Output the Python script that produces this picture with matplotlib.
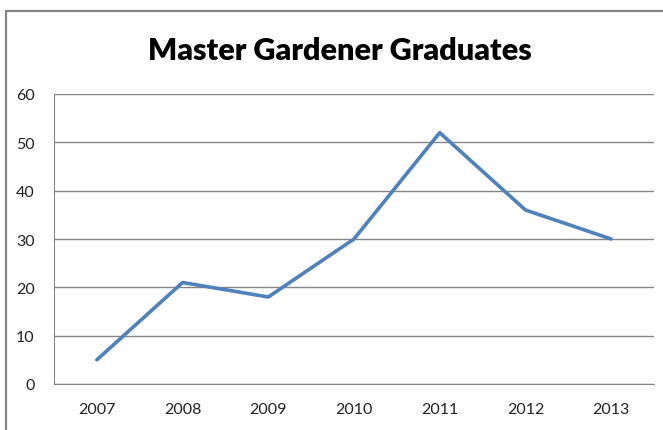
import matplotlib.pyplot as plt
from matplotlib.patches import Rectangle

years = ["2007", "2008", "2009", "2010", "2011", "2012", "2013"]
graduates = [5, 21, 18, 30, 52, 36, 30]

W, H = 663, 431
fig = plt.figure(figsize=(W / 100, H / 100), dpi=100)

# outer chart border (cropped on right and bottom)
fig.patches.append(Rectangle((6 / W, -0.05), 1.1, 1 - 12 / H + 0.05,
                             transform=fig.transFigure, fill=False,
                             edgecolor="#868686", linewidth=1.6))

ax = fig.add_axes([54 / W, 1 - 385 / H, 600 / W, 290 / H])
x = range(len(years))
ax.plot(x, graduates, color="#4F81BD", linewidth=2.6, solid_capstyle="round")

ax.set_xlim(-0.5, len(years) - 0.5)
ax.set_ylim(0, 60)
ax.set_yticks(range(0, 61, 10))
ax.set_xticks(list(x))
ax.set_xticklabels(years)
ax.yaxis.grid(True, color="#868686", linewidth=1)
ax.set_axisbelow(True)
for s in ["top", "right"]:
    ax.spines[s].set_visible(False)
for s in ["left", "bottom"]:
    ax.spines[s].set_color("#868686")
ax.tick_params(length=0, labelsize=11.5, labelcolor="#222222")
ax.tick_params(axis="x", pad=13)
ax.tick_params(axis="y", pad=14)
for lab in ax.get_xticklabels() + ax.get_yticklabels():
    lab.set_family("Lato")

fig.text(340 / W, 1 - 51 / H, "Master Gardener Graduates", ha="center", va="center",
         fontsize=22, fontweight="heavy", family="Lato")

fig.savefig("out.png", dpi=100)
